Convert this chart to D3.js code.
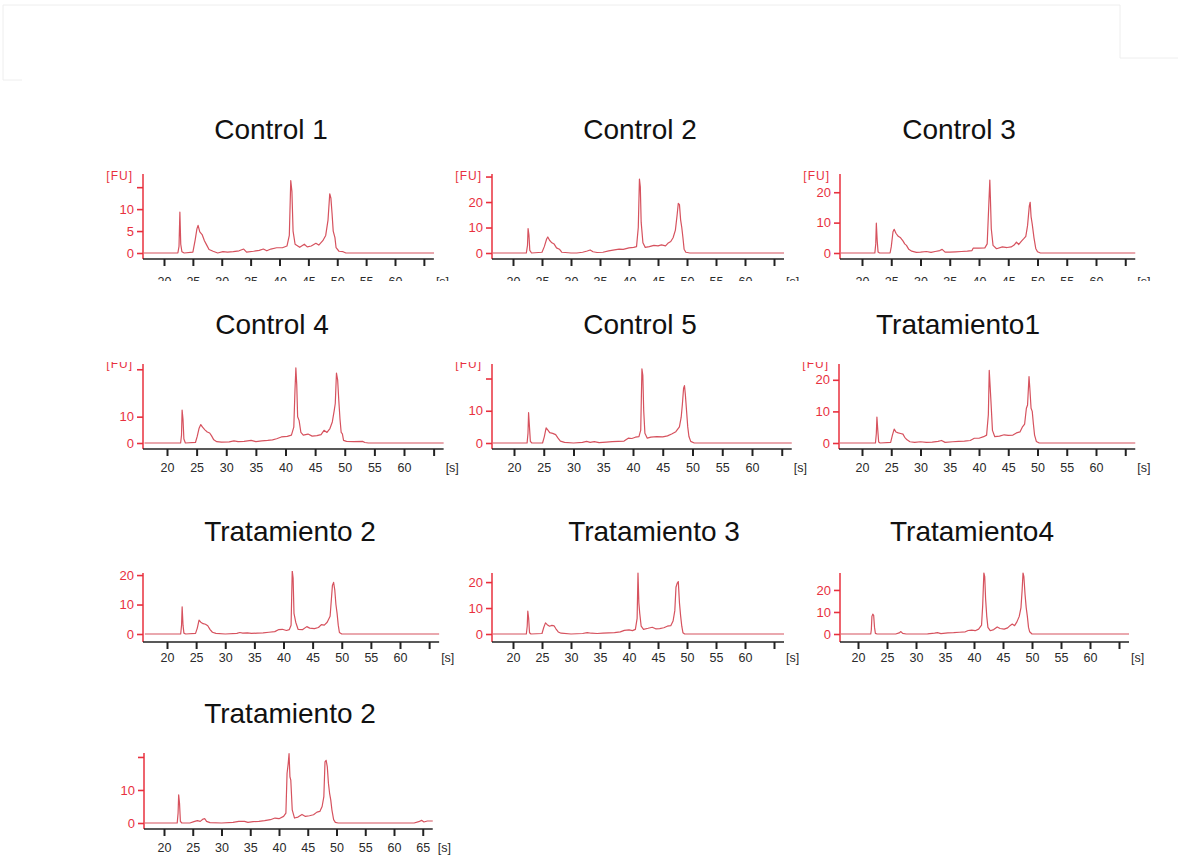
<!DOCTYPE html>
<html>
<head>
<meta charset="utf-8">
<script src="https://cdn.jsdelivr.net/npm/d3@7"></script>
<style>
  body { margin: 0; background: #fff; }
  svg { display: block; }
</style>
</head>
<body>
<script>
// sample names, in reading order
const titles = ['Control 1', 'Control 2', 'Control 3', 'Control 4', 'Control 5',
  'Tratamiento1', 'Tratamiento 2', 'Tratamiento 3', 'Tratamiento4', 'Tratamiento 2'];

// fluorescence value at the top of each y axis [FU]
const yTops = [18, 31, 26, 30, 24.5, 25, 20.7, 23.5, 27.7, 21.2];

// labelled y ticks and unlabelled top ticks
const yTicksLabelled = [[0, 5, 10], [0, 10, 20], [0, 10, 20], [0, 10], [0, 10],
  [0, 10, 20], [0, 10, 20], [0, 10, 20], [0, 10, 20], [0, 10]];
const yTicksExtra = [[15], [30], [], [28], [20], [], [], [], [], [20]];

// x ticks in seconds
const xTicks = [20, 25, 30, 35, 40, 45, 50, 55, 60];
const xEndTick = 65;

// electropherograms: [time s, FU]
const control1 = [[16.2,0],[22.4,0],[22.6,1.5],[22.75,9.3],[22.9,2],[23.1,0.3],[23.5,0],[25.0,0.2],[25.4,3],[25.7,5.5],[25.9,6.3],[26.2,4.8],[26.6,4.2],[27.0,2.8],[27.4,1.8],[27.8,0.8],[28.5,0.4],[29.3,0],[30.2,0.3],[31,0.2],[32,0.3],[33,0.5],[33.8,0.9],[34.3,0.2],[35.5,0.4],[36.5,0.6],[37.2,0.9],[37.8,0.5],[38.5,0.9],[39.5,1.2],[40.5,1.2],[41.3,1.6],[41.7,4],[41.95,16.5],[42.15,14],[42.35,5],[42.7,2],[43.5,1.3],[44.3,2],[44.8,1.4],[45.5,1.6],[46.3,2.2],[46.8,1.8],[47.5,2.8],[48.0,4],[48.4,7.5],[48.7,13.5],[48.9,12.5],[49.1,9],[49.3,5],[49.6,3.5],[49.8,1.2],[50.3,0.4],[51,0.3],[51.5,0],[67.5,0]];

const control2 = [[16.2,0],[22.3,0],[22.5,3],[22.6,9.6],[22.75,7],[22.9,1],[23.2,0],[25.0,0.3],[25.4,2.5],[25.8,5.5],[26.0,6.3],[26.3,5],[26.7,4],[27.1,3.5],[27.5,2],[28.0,1.5],[28.4,0.3],[29,0.2],[30,0],[31,0],[32,0.3],[32.8,0.8],[33.3,1.2],[33.8,0.5],[34.5,0.2],[35.5,0.3],[36.5,0.8],[37.5,1.2],[38.3,1.5],[39,1.4],[40,2],[40.8,2.2],[41.3,2.5],[41.6,10],[41.8,29],[41.95,26],[42.1,12],[42.4,4],[42.8,2.2],[43.5,2.5],[44.3,3],[45,2.8],[45.6,3.2],[46.3,2.8],[46.7,3.8],[47.2,4.5],[47.6,6],[48.0,9],[48.3,15],[48.5,19.5],[48.7,19],[48.9,13],[49.1,10],[49.3,6],[49.5,1.5],[49.8,0.3],[50.5,0],[67.5,0]];

const control3 = [[16.2,0],[22.2,0],[22.35,3],[22.45,9.8],[22.6,4],[22.75,0.3],[23,0],[24.8,0],[25.0,2],[25.3,7],[25.5,7.8],[25.8,6.5],[26.2,5.5],[26.6,5],[27.0,4],[27.3,3],[27.6,2.5],[28.0,1.2],[28.5,0.6],[29.3,0.2],[30,0.3],[31,0.5],[31.8,0.2],[32.5,0.5],[33.3,0.8],[33.7,1.2],[34.2,0.3],[35,0.3],[36,0.4],[37,0.5],[38,0.6],[38.8,0.8],[39.0,1.6],[40,1.6],[41,1.7],[41.4,3],[41.7,17],[41.85,24],[41.95,18],[42.1,8],[42.4,2.5],[43,1.4],[44,2],[44.8,1.8],[45.5,2],[46,2.6],[46.4,3.6],[46.8,2.8],[47.3,4],[47.7,4.8],[48.0,5.5],[48.3,9],[48.6,15.5],[48.75,16.7],[48.9,12],[49.1,9.5],[49.4,5],[49.7,1.5],[50,0.4],[50.5,0],[67.5,0]];

const control4 = [[16.2,0],[22.3,0],[22.45,3],[22.55,12.5],[22.7,9],[22.85,1.5],[23.1,0],[24.8,0.2],[25.1,2.5],[25.4,5.5],[25.7,7],[26.0,6],[26.4,5],[26.8,4.2],[27.2,3.8],[27.5,2.8],[27.9,1.2],[28.4,0.5],[29.2,0.3],[30.5,0.4],[31.3,0.8],[32,0.5],[33,0.6],[34.2,1],[35,0.5],[36,0.8],[37,1],[37.8,1.2],[38.5,1.6],[39.3,2.3],[40.3,2.5],[41.0,3],[41.4,6],[41.6,20],[41.75,28.5],[41.9,22],[42.05,10],[42.3,8.5],[42.6,4],[43,3],[43.8,3.4],[44.5,2.6],[45.3,2.8],[46,3.2],[46.5,4.8],[47,4],[47.5,5.5],[47.9,8],[48.2,12],[48.4,15],[48.6,26.5],[48.8,24],[49.0,16],[49.2,9],[49.4,4],[49.6,3.5],[49.8,1],[50.3,0.6],[51.5,0.5],[53,0.6],[53.4,0.2],[54,0],[67.5,0]];

const control5 = [[16.2,0],[22.2,0],[22.35,3],[22.45,9.4],[22.6,5],[22.75,0.5],[23,0],[24.8,0],[25.1,2],[25.4,4.7],[25.7,4],[26.0,3.2],[26.5,3],[27.0,2.6],[27.4,1.5],[27.8,0.6],[28.5,0.2],[30,0],[31.5,0.2],[32.2,0.5],[32.8,0.2],[33.5,0.4],[34.3,0.1],[35.5,0.3],[36.5,0.4],[37.5,0.5],[38.5,0.6],[39.2,1.5],[39.8,1.4],[40.4,1.8],[41.0,2],[41.3,4],[41.5,23],[41.65,21],[41.8,10],[42.0,3],[42.4,1.5],[43,1.8],[44,2],[45,1.9],[45.8,2.2],[46.5,2.8],[47.2,3.5],[47.8,5],[48.1,8],[48.3,12],[48.5,17],[48.65,17.8],[48.8,15],[49.0,10],[49.2,5],[49.4,2],[49.7,0.5],[50.3,0],[67.5,0]];

const tratamiento1 = [[16.2,0],[22.3,0],[22.45,3],[22.55,8.2],[22.7,4],[22.85,0.3],[23.1,0],[24.9,0.2],[25.2,2.5],[25.5,4.4],[25.8,3.5],[26.2,3.2],[26.6,3],[27,2.8],[27.3,1.8],[27.7,1],[28.2,0.4],[29,0.2],[30,0.4],[31,0.2],[32,0.3],[33,0.5],[33.6,0.8],[34.2,0.2],[35.5,0.4],[36.5,0.5],[37.5,0.6],[38.5,0.8],[39.2,1.5],[40,1.5],[40.8,2],[41.3,2.5],[41.6,9],[41.75,23],[41.9,18],[42.05,13],[42.3,4],[42.7,2],[43.5,2.2],[44.3,2.6],[45,2.4],[45.8,2.5],[46.4,3.2],[47,3.5],[47.4,5],[47.8,6],[48.1,11],[48.3,12],[48.55,21],[48.7,17],[48.9,11],[49.1,10],[49.3,6],[49.5,2.5],[49.8,0.5],[50.3,0],[67.5,0]];

const tratamiento2 = [[16.2,0],[22.35,0],[22.5,3],[22.6,9.2],[22.75,3],[22.9,0.3],[23.2,0],[24.9,0.2],[25.2,2],[25.5,4.7],[25.8,4],[26.2,3.5],[26.6,3.3],[27,2.8],[27.4,1.5],[27.8,0.6],[28.4,0.2],[30,0],[32,0.2],[32.5,0.5],[33,0.3],[33.8,0.4],[34.5,0.2],[35.5,0.3],[36.5,0.4],[37.5,0.6],[38.5,0.8],[39.2,1.5],[39.8,1.6],[40.5,1.2],[41,1.5],[41.3,3],[41.5,21.5],[41.65,19],[41.8,7],[42.1,4],[42.5,1.6],[43.3,1.5],[44,2.5],[44.5,2],[45.3,1.8],[46,2.2],[46.5,3.2],[47,3],[47.5,4],[48.0,6],[48.4,16.5],[48.6,17.5],[48.8,15],[49.0,10],[49.2,7],[49.4,3],[49.6,0.5],[50,0],[67.5,0]];

const tratamiento3 = [[16.2,0],[22.3,0],[22.45,3],[22.55,8.8],[22.7,6],[22.85,0.5],[23.1,0],[25,0.2],[25.3,2.5],[25.6,4.3],[25.9,3.6],[26.3,3],[26.7,3.3],[27.1,3.1],[27.4,2],[27.8,0.8],[28.3,0.3],[30,0],[32,0.2],[32.8,0.5],[33.5,0.3],[34.5,0.2],[35.5,0.3],[36.5,0.4],[37.5,0.5],[38.5,0.8],[39.2,1.4],[40,1.6],[40.6,1.3],[41.1,1.8],[41.4,6],[41.55,23.5],[41.7,12],[41.85,8],[42.1,3],[42.5,1.8],[43.3,2.2],[44,2.6],[44.6,2],[45.3,2.1],[46,2.4],[46.6,3],[47.2,3.2],[47.6,5],[47.9,9],[48.1,18],[48.3,19.5],[48.5,20.2],[48.7,12],[48.9,7],[49.1,3],[49.3,0.5],[49.6,0],[67.5,0]];

const tratamiento4 = [[16.2,0],[22.2,0],[22.3,2],[22.4,8],[22.55,9],[22.7,8.5],[22.85,3],[23,0.3],[23.3,0],[26.5,0],[27.1,0.5],[27.4,1.1],[27.7,0.3],[28.3,0],[32,0.1],[33.2,0.4],[33.7,0.6],[34.3,0.2],[35.5,0.5],[36.5,0.6],[37.5,0.8],[38.5,1],[39,1.6],[39.6,1.8],[40.2,1.5],[40.8,2.2],[41.3,4],[41.5,13],[41.7,27.7],[41.85,26],[42.0,16],[42.2,8],[42.4,3],[42.8,1.5],[43.4,2],[44,3.2],[44.5,2.5],[45.2,2.2],[45.8,2.8],[46.2,3.8],[46.6,4.5],[47,3.8],[47.4,5.5],[47.8,8],[48.1,12],[48.3,20],[48.45,27.7],[48.6,26],[48.8,18],[49.0,12],[49.2,8],[49.4,3],[49.6,1],[50,0],[67.5,0]];

const tratamiento2b = [[16.2,0],[22.3,0],[22.45,3],[22.55,8.5],[22.7,6],[22.85,0.5],[23.1,0],[24.5,0],[25.2,0.4],[25.8,0.7],[26.3,0.5],[26.8,1.2],[27.1,1.3],[27.4,0.5],[28,0.1],[30,0],[32,0.2],[33,0.5],[34,0.5],[34.6,0.2],[35.5,0.4],[36.5,0.5],[37.5,0.7],[38.5,1],[39.3,1.5],[40,1.3],[40.8,2],[41.2,3],[41.4,15],[41.6,18],[41.75,21],[41.9,14],[42.05,13],[42.3,4],[42.7,1.5],[43.3,1.8],[44,2.6],[44.6,2],[45.3,2.2],[46,2.5],[46.6,3.3],[47.1,3.5],[47.5,5],[47.8,8],[48.0,18.5],[48.2,19],[48.4,17],[48.6,12],[48.8,9],[49.0,7],[49.2,4],[49.5,1],[49.8,0.2],[50.3,0],[63.5,0],[64.3,0.4],[64.8,0.8],[65.2,0.3],[65.8,0.6],[66.5,0.6],[67.5,0.6]];

const series = [control1, control2, control3, control4, control5,
  tratamiento1, tratamiento2, tratamiento3, tratamiento4, tratamiento2b];

// page layout (pixels)
const rows = [
  { axisTop: 174, base: 253, gap: 6, clipTop: 150, clipBottom: 281, titleY: 139, fuY: 180, pad: 11 },
  { axisTop: 364, base: 443, gap: 6, clipTop: 362, clipBottom: 492, titleY: 334, fuY: 368, pad: 7 },
  { axisTop: 573, base: 634, gap: 8, clipTop: 571, clipBottom: 680, titleY: 541, fuY: null, pad: 4 },
  { axisTop: 753, base: 823, gap: 6, clipTop: 752, clipBottom: 859, titleY: 723, fuY: null, pad: 7 }
];
const layout = [
  { row: 0, ax: 143, x20: 164, x60: 395, tx: 271 },
  { row: 0, ax: 492, x20: 513, x60: 745, tx: 640 },
  { row: 0, ax: 840, x20: 862, x60: 1096, tx: 959 },
  { row: 1, ax: 143, x20: 167, x60: 404, tx: 272 },
  { row: 1, ax: 492, x20: 514, x60: 752, tx: 640 },
  { row: 1, ax: 839, x20: 862, x60: 1096, tx: 958 },
  { row: 2, ax: 143, x20: 167, x60: 400, tx: 290 },
  { row: 2, ax: 492, x20: 513, x60: 745, tx: 654 },
  { row: 2, ax: 840, x20: 858, x60: 1090, tx: 972 },
  { row: 3, ax: 144, x20: 164, x60: 394, tx: 290 }
];

const RED = '#e8303e';
const TRACE = '#d6525e';
const FONT = '"Liberation Sans", Arial, sans-serif';

const svg = d3.select('body').append('svg')
    .attr('width', 1178)
    .attr('height', 859);

const defs = svg.append('defs');

// faint frame left over from the pasted picture
svg.append('path')
    .attr('d', 'M3,5H1120 M3,5V80 M3,80H22 M1120,5V58 M1120,58H1178')
    .attr('fill', 'none')
    .attr('stroke', '#eeeeee')
    .attr('stroke-width', 1);

titles.forEach((title, i) => {
  const L = layout[i];
  const R = rows[L.row];
  const last = i === titles.length - 1;

  const x = d3.scaleLinear().domain([20, 60]).range([L.x20, L.x60]);
  const y = d3.scaleLinear().domain([0, yTops[i]]).range([R.base, R.axisTop]);
  const axisY = R.base + R.gap;
  const axisEnd = x(xEndTick) + 10;

  // title
  svg.append('text')
      .attr('x', L.tx)
      .attr('y', R.titleY)
      .attr('text-anchor', 'middle')
      .attr('font-family', FONT)
      .attr('font-size', 28)
      .attr('fill', '#111')
      .text(title);

  // the picture of each panel is cropped
  defs.append('clipPath').attr('id', 'clip' + i)
    .append('rect')
      .attr('x', L.ax - 60).attr('y', R.clipTop)
      .attr('width', 390).attr('height', R.clipBottom - R.clipTop);
  defs.append('clipPath').attr('id', 'plot' + i)
    .append('rect')
      .attr('x', L.ax + 1).attr('y', R.clipTop)
      .attr('width', axisEnd - L.ax - 1).attr('height', axisY - R.clipTop);

  const g = svg.append('g').attr('clip-path', `url(#clip${i})`);

  // trace
  g.append('path')
      .datum(series[i])
      .attr('clip-path', `url(#plot${i})`)
      .attr('fill', 'none')
      .attr('stroke', TRACE)
      .attr('stroke-width', 1.2)
      .attr('stroke-linejoin', 'round')
      .attr('d', d3.line().x(d => x(d[0])).y(d => y(d[1])));

  // y axis
  const labelled = yTicksLabelled[i];
  const yAxis = g.append('g')
      .attr('transform', `translate(${L.ax},0)`)
      .call(d3.axisLeft(y)
        .tickValues(labelled.concat(yTicksExtra[i]))
        .tickFormat(d => labelled.includes(d) ? d : '')
        .tickSize(6)
        .tickPadding(3)
        .tickSizeOuter(0));
  yAxis.select('.domain').remove();
  yAxis.selectAll('line').attr('stroke', RED).attr('stroke-width', 1.6);
  yAxis.selectAll('text')
      .attr('fill', RED)
      .attr('font-family', FONT)
      .attr('font-size', 13);
  g.append('line')
      .attr('x1', L.ax).attr('x2', L.ax)
      .attr('y1', R.axisTop).attr('y2', axisY)
      .attr('stroke', RED)
      .attr('stroke-width', 1.5);

  if (R.fuY !== null) {
    g.append('text')
        .attr('x', L.ax - 10)
        .attr('y', R.fuY)
        .attr('text-anchor', 'end')
        .attr('fill', RED)
        .attr('font-family', FONT)
        .attr('font-size', 12)
        .attr('letter-spacing', 1)
        .text('[FU]');
  }

  // x axis
  const xAxis = g.append('g')
      .attr('transform', `translate(0,${axisY})`)
      .call(d3.axisBottom(x)
        .tickValues(xTicks.concat([xEndTick]))
        .tickFormat(d => (d === xEndTick && !last) ? '' : d)
        .tickSize(7)
        .tickPadding(R.pad)
        .tickSizeOuter(0));
  xAxis.select('.domain').remove();
  xAxis.selectAll('line').attr('stroke', '#222').attr('stroke-width', 2);
  xAxis.selectAll('text')
      .attr('fill', '#2a2a2a')
      .attr('font-family', FONT)
      .attr('font-size', 12.5);
  g.append('line')
      .attr('x1', L.ax).attr('x2', axisEnd)
      .attr('y1', axisY).attr('y2', axisY)
      .attr('stroke', '#222')
      .attr('stroke-width', 1.5);
  g.append('text')
      .attr('x', x(xEndTick) + (last ? 15 : 12))
      .attr('y', axisY + 7 + R.pad)
      .attr('dy', '0.71em')
      .attr('text-anchor', 'start')
      .attr('fill', '#2a2a2a')
      .attr('font-family', FONT)
      .attr('font-size', 12.5)
      .text('[s]');
});
</script>
</body>
</html>
